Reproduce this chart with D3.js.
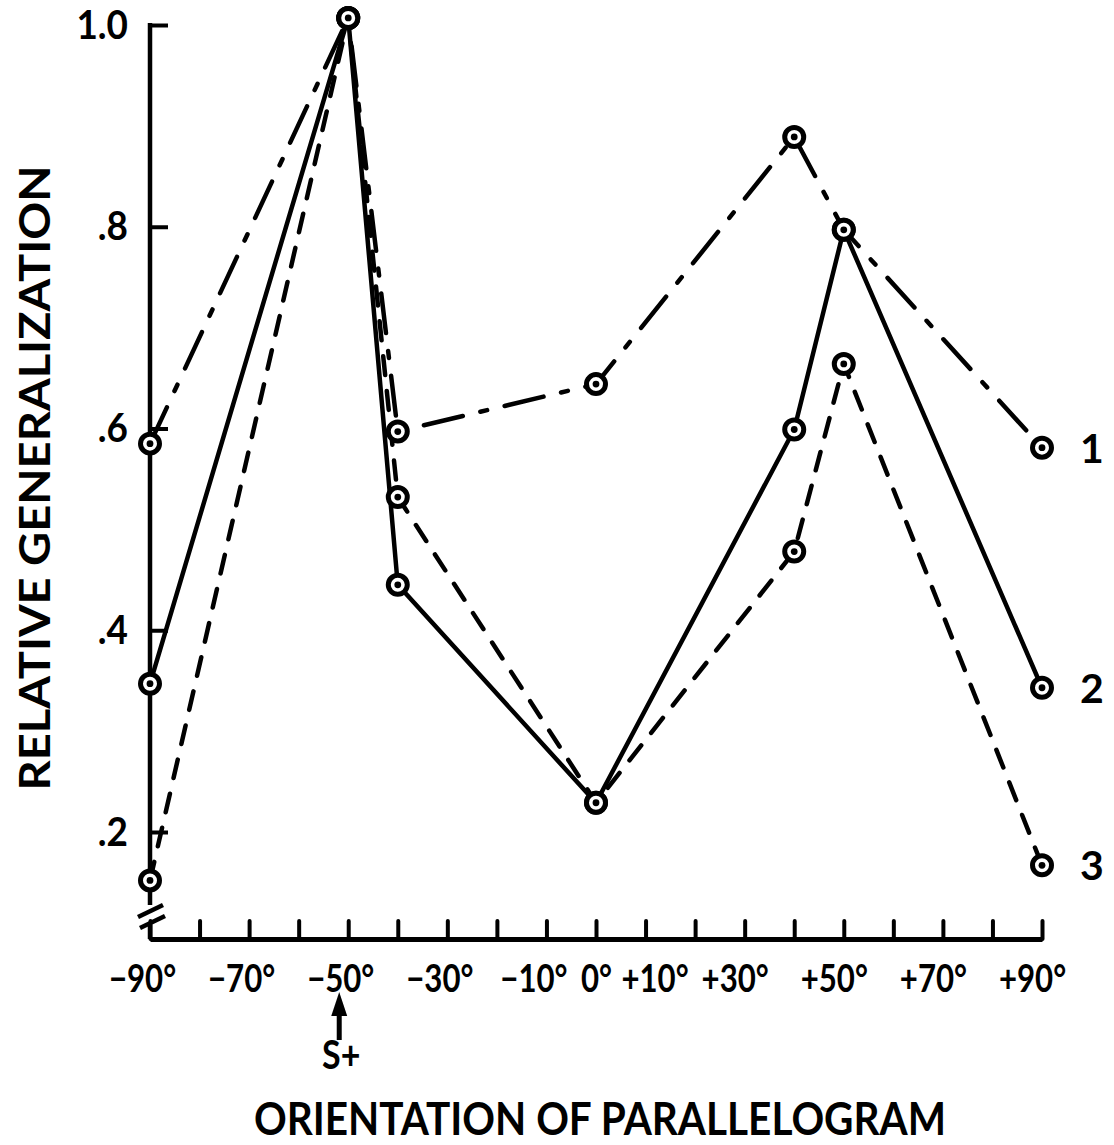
<!DOCTYPE html>
<html>
<head>
<meta charset="utf-8">
<script src="https://cdn.jsdelivr.net/npm/d3@7"></script>
<style>
  body { margin: 0; background: #fff; }
  svg { display: block; }
  text { font-family: Lato, "DejaVu Sans", sans-serif; font-weight: 700; fill: #000; }
</style>
</head>
<body>
<svg width="1114" height="1145"></svg>
<script>
// orientation (degrees) at which each curve was measured
const angles = [-90, -50, -40, 0, 40, 50, 90];
// relative generalization
const curve1 = [0.585, 1.007, 0.597, 0.644, 0.889, 0.797, 0.581];
const curve2 = [0.347, 1.007, 0.445, 0.229, 0.599, 0.797, 0.343];
const curve3 = [0.152, 1.007, 0.532, 0.229, 0.478, 0.664, 0.167];
const curveNames = ["1", "2", "3"];

const yTicks = [0.2, 0.4, 0.6, 0.8, 1.0];
const xTicks = d3.range(-90, 91, 10);
const xLabelled = [-90, -70, -50, -30, -10, 0, 10, 30, 50, 70, 90];
const sPlus = -50;

const svg = d3.select("svg");

const area = { left: 150, right: 1042, top: 25, bottom: 939 };

const scX = d3.scaleLinear().domain([-90, 90]).range([area.left, area.right]);
const scY = d3.scaleLinear().domain([0.2, 1.0]).range([832, area.top]);

// squeeze text horizontally, the original lettering is narrow
function narrow(sel, k) {
    sel.each(function () {
        const w = this.getComputedTextLength();
        if (w > 0) {
            d3.select(this).attr("textLength", w * k)
                .attr("lengthAdjust", "spacingAndGlyphs");
        }
    });
}

// y axis: ticks to the right, labels left
const fmtY = d => d === 1 ? "1.0" : d3.format(".1f")(d).replace(/^0/, "");
const gy = svg.append("g")
    .attr("transform", `translate(${area.left},0)`)
    .call(d3.axisLeft(scY).tickValues(yTicks).tickFormat(fmtY)
        .tickSizeInner(-18).tickSizeOuter(0).tickPadding(22));
gy.select(".domain").remove();
gy.selectAll(".tick line").attr("stroke", "#000").attr("stroke-width", 4);
gy.selectAll(".tick text").style("font-size", "41px").attr("font-family", null)
    .call(narrow, 0.9);

// y axis line with a break near the bottom
const gAxis = svg.append("g")
    .attr("stroke", "#000").attr("stroke-width", 4.5).attr("fill", "none");
gAxis.append("line")
    .attr("x1", area.left).attr("x2", area.left)
    .attr("y1", area.top - 2).attr("y2", 905);
gAxis.append("line")
    .attr("x1", area.left).attr("x2", area.left)
    .attr("y1", 925).attr("y2", area.bottom);
[[0, 0], [2, 11]].forEach(([dx, dy]) => {
    gAxis.append("line")
        .attr("x1", area.left - 12 + dx).attr("y1", 917 + dy)
        .attr("x2", area.left + 13 + dx).attr("y2", 905 + dy);
});

// x axis: ticks pointing up
const fmtX = d => {
    if (!xLabelled.includes(d)) return "";
    if (d > 0) return "+" + d + "°";
    if (d < 0) return "−" + Math.abs(d) + "°";
    return "0°";
};
const gx = svg.append("g")
    .attr("transform", `translate(0,${area.bottom})`)
    .call(d3.axisBottom(scX).tickValues(xTicks).tickFormat(fmtX)
        .tickSizeInner(-18).tickSizeOuter(0).tickPadding(26));
gx.select(".domain").attr("stroke", "#000").attr("stroke-width", 5);
gx.selectAll(".tick line").attr("stroke", "#000").attr("stroke-width", 4)
    .attr("stroke-linecap", "round");
gx.selectAll(".tick text").style("font-size", "38px").attr("font-family", null)
    .attr("dx", d => d > 10 ? -10 : d === 10 ? 9 : d === 0 ? 0 : d === -10 ? -13 : -8)
    .call(narrow, 0.82);

// S+ arrow under -50
const ax = scX(sPlus) - 9;
svg.append("line")
    .attr("x1", ax).attr("x2", ax).attr("y1", 1008).attr("y2", 1040)
    .attr("stroke", "#000").attr("stroke-width", 5);
svg.append("path")
    .attr("d", `M${ax},992 L${ax - 8},1016 L${ax + 8},1016 Z`)
    .attr("fill", "#000");
svg.append("text")
    .attr("x", ax + 2).attr("y", 1069)
    .attr("text-anchor", "middle")
    .style("font-size", "40px")
    .text("S+")
    .call(narrow, 0.85);

// curves
const styles = [
    { dash: "40,18,7,18" },
    { dash: null },
    { dash: "19,16" }
];
const curves = [curve1, curve2, curve3];
const line = d3.line().x(d => scX(d.a)).y(d => scY(d.v));

curves.forEach((vals, i) => {
    const pts = angles.map((a, j) => ({ a: a, v: vals[j] }));
    svg.append("path")
        .datum(pts)
        .attr("d", line)
        .attr("fill", "none")
        .attr("stroke", "#000")
        .attr("stroke-width", 4.5)
        .attr("stroke-linecap", styles[i].dash ? "round" : "butt")
        .attr("stroke-linejoin", "round")
        .attr("stroke-dasharray", styles[i].dash);
});

// markers: ring with a dot
curves.forEach(vals => {
    const pts = angles.map((a, j) => ({ a: a, v: vals[j] }));
    const g = svg.append("g");
    g.selectAll("circle.ring")
        .data(pts).enter().append("circle")
        .attr("class", "ring")
        .attr("cx", d => scX(d.a)).attr("cy", d => scY(d.v))
        .attr("r", 9.5)
        .attr("fill", "#fff").attr("stroke", "#000").attr("stroke-width", 5);
    g.selectAll("circle.dot")
        .data(pts).enter().append("circle")
        .attr("class", "dot")
        .attr("cx", d => scX(d.a)).attr("cy", d => scY(d.v))
        .attr("r", 3.4)
        .attr("fill", "#000");
});

// curve numbers on the right
curves.forEach((vals, i) => {
    svg.append("text")
        .attr("x", scX(90) + 50)
        .attr("y", scY(vals[vals.length - 1]) + 15)
        .attr("text-anchor", "middle")
        .style("font-size", "41px")
        .text(curveNames[i]);
});

// axis titles
svg.append("text")
    .attr("transform", "translate(50,478) rotate(-90)")
    .attr("text-anchor", "middle")
    .attr("textLength", 625)
    .attr("lengthAdjust", "spacingAndGlyphs")
    .style("font-size", "42px")
    .text("RELATIVE GENERALIZATION");

svg.append("text")
    .attr("x", 600).attr("y", 1135)
    .attr("text-anchor", "middle")
    .attr("textLength", 692)
    .attr("lengthAdjust", "spacingAndGlyphs")
    .style("font-size", "45px")
    .text("ORIENTATION OF PARALLELOGRAM");
</script>
</body>
</html>
